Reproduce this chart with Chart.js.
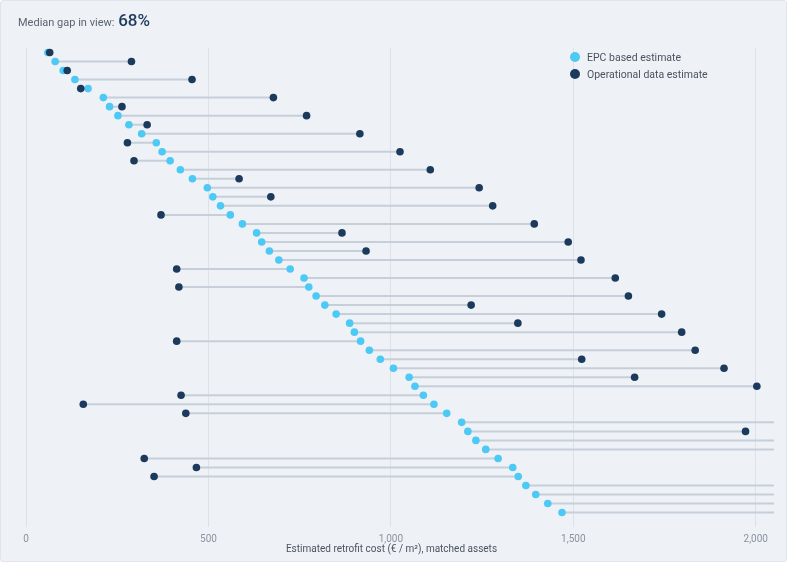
<!DOCTYPE html>
<html>
<head>
<meta charset="utf-8">
<script src="https://cdn.jsdelivr.net/npm/chart.js@4.4.1/dist/chart.umd.min.js"></script>
<style>
  body { margin: 0; background: #ffffff; font-family: Roboto, Inter, sans-serif; }
  .card {
    position: relative;
    width: 787px; height: 562px;
    background: #eef1f5;
    border: 1px solid #e0e5eb;
    border-radius: 3px;
    box-sizing: border-box;
  }
  .titulo {
    position: absolute; left: 17px; top: 9px;
    font-size: 11px; color: #5b6472;
  }
  .titulo b { font-size: 17px; font-weight: 500; color: #1f3a5c; margin-left: 1px; }
  .legenda { position: absolute; left: 569px; top: 50px; font-size: 10.5px; color: #4a5362; }
  .legenda div { height: 17px; line-height: 14px; }
  .legenda span {
    display: inline-block; width: 10px; height: 10px; border-radius: 50%;
    vertical-align: -1px; margin-right: 7px;
  }
  .eixo-titulo {
    position: absolute; left: -1px; width: 783px; top: 542px;
    text-align: center; font-size: 10px; line-height: 12px; color: #4a5362;
  }
  .area { position: absolute; left: -1px; top: -1px; width: 787px; height: 562px; }
</style>
</head>
<body>
<div class="card">
  <div class="area"><canvas id="grafico"></canvas></div>
  <div class="titulo">Median gap in view: <b>68%</b></div>
  <div class="legenda">
    <div><span style="background:#4cc9f5"></span>EPC based estimate</div>
    <div><span style="background:#1b3a5c"></span>Operational data estimate</div>
  </div>
  <div class="eixo-titulo">Estimated retrofit cost (€ / m²), matched assets</div>
</div>
<script>
// estimativas por ativo (€ / m²), uma linha por ativo, de cima para baixo
var estimativaEPC = [60, 80, 102, 134, 170, 212, 229, 252, 282, 317, 357, 373, 395, 423, 456, 497,
  512, 533, 560, 593, 632, 646, 667, 693, 724, 762, 775, 795, 819, 850, 887, 900, 917, 941, 971,
  1007, 1050, 1066, 1089, 1118, 1153, 1194, 1211, 1233, 1260, 1294, 1334, 1349, 1370, 1397, 1430, 1469];

// valores acima de 2.050 ficam fora da vista (só aparece a linha)
var estimativaOperacional = [65, 289, 113, 455, 150, 678, 263, 769, 332, 915, 278, 1025, 296, 1108,
  584, 1242, 671, 1279, 370, 1393, 866, 1486, 932, 1521, 413, 1615, 419, 1651, 1220, 1742, 1348, 1797,
  413, 1834, 1523, 1913, 1668, 2003, 425, 157, 438, 2200, 1972, 2350, 2150, 324, 467, 351, 2500, 2300,
  2400, 2600];

var ticksX = [0, 500, 1000, 1500, 2000];

function montarGrafico() {
  var pontosEPC = [], pontosOp = [], ligacoes = [];
  for (var i = 0; i < estimativaEPC.length; i++) {
    pontosEPC.push({ x: estimativaEPC[i], y: i });
    pontosOp.push({ x: estimativaOperacional[i], y: i });
    ligacoes.push({ x: estimativaEPC[i], y: i });
    ligacoes.push({ x: estimativaOperacional[i], y: i });
    ligacoes.push({ x: estimativaOperacional[i], y: null }); // quebra a linha
  }

  var ctx = document.getElementById("grafico").getContext("2d");
  new Chart(ctx, {
    type: "scatter",
    data: {
      datasets: [
        {
          label: "ligacao",
          data: ligacoes,
          showLine: true,
          spanGaps: false,
          borderColor: "#c6cfd9",
          borderWidth: 2,
          pointRadius: 0,
          order: 3
        },
        {
          label: "EPC based estimate",
          data: pontosEPC,
          backgroundColor: "#4cc9f5",
          borderWidth: 0,
          pointRadius: 3.8,
          order: 2
        },
        {
          label: "Operational data estimate",
          data: pontosOp,
          backgroundColor: "#1b3a5c",
          borderWidth: 0,
          pointRadius: 3.8,
          order: 1
        }
      ]
    },
    options: {
      responsive: true,
      maintainAspectRatio: false,
      animation: false,
      layout: { padding: { left: 26, right: 13, top: 48, bottom: 11 } },
      plugins: { legend: { display: false }, tooltip: { enabled: false } },
      scales: {
        x: {
          type: "linear",
          min: 0,
          max: 2050,
          afterBuildTicks: function(eixo) {
            eixo.ticks = ticksX.map(function(v) { return { value: v }; });
          },
          ticks: {
            includeBounds: false,
            padding: 7,
            color: "#8a93a1",
            font: { family: "Roboto", size: 10, lineHeight: 1 }
          },
          grid: { color: "#dde2e8", drawTicks: false },
          border: { display: false }
        },
        y: {
          type: "linear",
          display: false,
          reverse: true,
          min: -0.5,
          max: 52.6
        }
      }
    }
  });
}

window.onload = montarGrafico;
</script>
</body>
</html>
